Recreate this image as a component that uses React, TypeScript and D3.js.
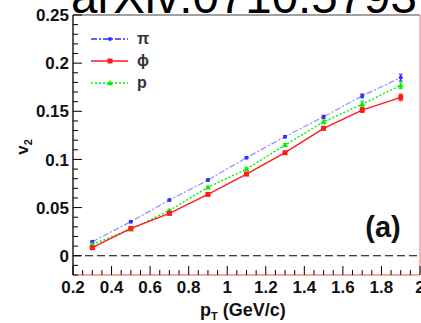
import React from "react";
import * as d3 from "d3";

const ptValues = [0.3, 0.5, 0.7, 0.9, 1.1, 1.3, 1.5, 1.7, 1.9];
const piV2 = [0.0146, 0.0353, 0.0578, 0.0786, 0.1018, 0.1236, 0.1443, 0.166, 0.185];
const piErr = [0.001, 0.001, 0.001, 0.001, 0.001, 0.0012, 0.0015, 0.002, 0.0035];
const phiV2 = [0.0083, 0.0284, 0.044, 0.0637, 0.0848, 0.107, 0.1323, 0.1513, 0.1645];
const phiErr = [0.001, 0.001, 0.001, 0.001, 0.0012, 0.0012, 0.0015, 0.0025, 0.0035];
const pV2 = [0.0118, 0.0274, 0.047, 0.071, 0.09, 0.115, 0.139, 0.1575, 0.177];
const pErr = [0.001, 0.001, 0.001, 0.001, 0.0012, 0.0015, 0.002, 0.003, 0.0035];
const yTickLabels = ["0", "0.05", "0.1", "0.15", "0.2", "0.25"];
const xTickLabels = ["0.2", "0.4", "0.6", "0.8", "1", "1.2", "1.4", "1.6", "1.8", "2"];

const W = 421, H = 323;
const L = 73, R = 420, T = 15, B = 275;
const FONT = "'Liberation Sans', Arial, sans-serif";

export default function App() {
  const x = d3.scaleLinear().domain([0.2, 2]).range([L, R]);
  const y = d3.scaleLinear().domain([-0.02, 0.25]).range([B, T]);
  const line = d3.line<[number, number]>().x(d => x(d[0])).y(d => y(d[1]));

  const series = [
    { name: "π", vals: piV2, err: piErr, color: "#2f2fff", dash: "6,2,2,2", marker: "circle", opacity: 0.55, lw: 1.2 },
    { name: "p", vals: pV2, err: pErr, color: "#00ee00", dash: "2,2", marker: "tri", opacity: 1, lw: 1.4 },
    { name: "ϕ", vals: phiV2, err: phiErr, color: "#ff1a1a", dash: "", marker: "square", opacity: 1, lw: 1.4 },
  ];
  const legendOrder = [series[0], series[2], series[1]];

  const yMinor = d3.range(-0.02, 0.2501, 0.01).map(v => Math.round(v * 100) / 100);
  const xMinor = d3.range(0.2, 2.0001, 0.05).map(v => Math.round(v * 100) / 100);

  const marker = (m: string, cx: number, cy: number, color: string, key: any) => {
    if (m === "circle") return <circle key={key} cx={cx} cy={cy} r={2} fill={color} />;
    if (m === "square") return <rect key={key} x={cx - 2.5} y={cy - 2.5} width={5} height={5} fill={color} />;
    return <path key={key} d={`M${cx},${cy - 3}L${cx + 3},${cy + 2.2}L${cx - 3},${cy + 2.2}Z`} fill={color} />;
  };

  return (
    <svg width={W} height={H} style={{ position: "absolute", left: 0, top: 0, background: "#fff" }}>
      <line x1={L} x2={R} y1={y(0)} y2={y(0)} stroke="#000" strokeWidth={1.2} strokeDasharray="8,4" />
      {series.map((s, i) => (
        <g key={i}>
          <path d={line(ptValues.map((p, j) => [p, s.vals[j]] as [number, number])) || ""} fill="none"
            stroke={s.color} strokeWidth={s.lw} strokeDasharray={s.dash} strokeOpacity={s.opacity} />
          {ptValues.map((p, j) => (
            <g key={j}>
              <line x1={x(p)} x2={x(p)} y1={y(s.vals[j] - s.err[j])} y2={y(s.vals[j] + s.err[j])} stroke={s.color} strokeWidth={1.2} />
              <line x1={x(p) - 2} x2={x(p) + 2} y1={y(s.vals[j] - s.err[j])} y2={y(s.vals[j] - s.err[j])} stroke={s.color} strokeWidth={1} />
              <line x1={x(p) - 2} x2={x(p) + 2} y1={y(s.vals[j] + s.err[j])} y2={y(s.vals[j] + s.err[j])} stroke={s.color} strokeWidth={1} />
              {marker(s.marker, x(p), y(s.vals[j]), s.color, "m" + j)}
            </g>
          ))}
        </g>
      ))}
      <line x1={L} x2={R} y1={T} y2={T} stroke="#444" strokeWidth={1.2} />
      <line x1={R} x2={R} y1={T} y2={B} stroke="#e88" strokeWidth={1.2} />
      <line x1={L} x2={R} y1={B} y2={B} stroke="#e88" strokeWidth={1.5} />
      <line x1={L} x2={L} y1={T} y2={B} stroke="#000" strokeWidth={1.3} />
      {yMinor.map((v, i) => {
        const major = Math.abs(Math.round(v * 20) - v * 20) < 1e-6;
        return <line key={i} x1={L} x2={L + (major ? 9 : 5)} y1={y(v)} y2={y(v)} stroke="#000" strokeWidth={1} />;
      })}
      {yTickLabels.map((t, i) => (
        <text key={i} x={L - 4} y={y(+t)} dy="0.36em" textAnchor="end" fontFamily={FONT} fontWeight="bold" fontSize={17} fill="#111">{t}</text>
      ))}
      {xMinor.map((v, i) => {
        const major = Math.abs(Math.round(v * 5) - v * 5) < 1e-6;
        return <line key={i} x1={x(v)} x2={x(v)} y1={B} y2={B - (major ? 9 : 5)} stroke="#000" strokeWidth={1} />;
      })}
      {xTickLabels.map((t, i) => (
        <text key={i} x={x(+t)} y={B + 18} textAnchor="middle" fontFamily={FONT} fontWeight="bold" fontSize={17} fill="#111">{t}</text>
      ))}
      <text x={200} y={316} fontFamily={FONT} fontWeight="bold" fontSize={18} fill="#111">
        p<tspan fontSize={11} dy={4}>T</tspan><tspan dy={-4}> (GeV/c)</tspan>
      </text>
      <text transform="translate(28,147) rotate(-90)" textAnchor="middle" fontFamily={FONT} fontWeight="bold" fontSize={17} fill="#111">
        v<tspan fontSize={11} dy={4}>2</tspan>
      </text>
      <text x={383} y={237} textAnchor="middle" fontFamily={FONT} fontWeight="bold" fontSize={29} fill="#111">(a)</text>
      {legendOrder.map((s, i) => {
        const ly = 39 + i * 22;
        return (
          <g key={i}>
            <line x1={91} x2={128} y1={ly} y2={ly} stroke={s.color} strokeWidth={1.3} strokeDasharray={s.dash} />
            {marker(s.marker, 110, ly, s.color, "lm")}
            <text x={137} y={ly} dy="0.3em" fontFamily={FONT} fontWeight="bold" fontSize={16} fill="#333">{s.name}</text>
          </g>
        );
      })}
      <text x={71} y={13} fontFamily={FONT} fontSize={47.5} fill="#000">arXiv:0710.5793</text>
    </svg>
  );
}
